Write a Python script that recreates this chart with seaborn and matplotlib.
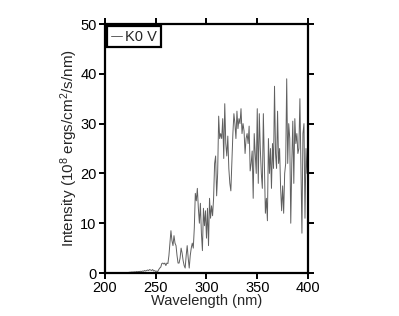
import pandas as pd
import matplotlib
matplotlib.use("Agg")
import matplotlib.pyplot as plt
import seaborn as sns

# K0 V spectrum, 1 nm steps from 222 to 400 nm
wavelength = list(range(222, 401))
intensity = [
    0.1, 0.1, 0.15, 0.15, 0.2, 0.2, 0.2, 0.25, 0.2, 0.3,          # 222-231
    0.25, 0.3, 0.3, 0.35, 0.3, 0.4, 0.35, 0.5, 0.4, 0.5,           # 232-241
    0.6, 0.5, 0.7, 0.6, 0.5, 0.7, 0.4, 0.5, 0.3, 0.4,              # 242-251
    0.3, 0.7, 1.0, 1.2, 1.9, 2.0, 1.8, 2.0, 1.5, 2.0,              # 252-261
    1.9, 3.5, 6.0, 8.5, 6.5, 5.5, 7.5, 6.0, 5.5, 3.5,              # 262-271
    2.0, 2.0, 3.0, 5.0, 4.0, 2.5, 1.5, 1.0, 3.5, 5.5,              # 272-281
    3.0, 1.0, 3.5, 5.0, 6.0, 5.0, 9.0, 16.0, 14.5, 17.0,           # 282-291
    13.0, 10.0, 14.0, 8.0, 4.5, 13.0, 9.5, 12.5, 7.0, 13.0,        # 292-301
    5.5, 15.0, 11.0, 13.5, 11.5, 15.0, 22.0, 23.5, 15.5, 20.0,     # 302-311
    31.5, 27.0, 28.0, 27.0, 31.0, 23.0, 34.0, 26.0, 23.5, 27.5,    # 312-321
    21.0, 18.0, 16.5, 22.0, 28.0, 32.0, 30.0, 27.0, 32.5, 29.0,    # 322-331
    31.0, 30.0, 33.0, 28.0, 30.0, 28.5, 24.0, 27.0, 28.0, 26.0,    # 332-341
    29.5, 20.5, 22.0, 24.5, 15.0, 28.0, 24.0, 20.0, 33.0, 18.0,    # 342-351
    32.0, 25.0, 20.0, 17.0, 32.0, 22.0, 12.0, 15.0, 10.5, 27.0,    # 352-361
    20.0, 25.0, 17.0, 26.0, 21.0, 37.5, 24.0, 21.0, 32.5, 22.0,    # 362-371
    25.0, 17.0, 12.5, 17.5, 12.0, 20.0, 22.0, 39.0, 22.0, 30.0,    # 372-381
    27.0, 10.0, 22.0, 30.5, 18.0, 31.0, 26.0, 28.0, 24.0, 25.0,    # 382-391
    35.0, 22.0, 8.0, 28.0, 30.0, 11.0, 25.0, 20.0, 22.0,           # 392-400
]
series_name = "K0 V"
x_ticks = [200, 250, 300, 350, 400]
y_ticks = [0, 10, 20, 30, 40, 50]

df = pd.DataFrame({"wl": wavelength, "inten": intensity})
df["star"] = series_name

sns.set_style("ticks")
plt.rcParams["font.family"] = ["Liberation Sans", "DejaVu Sans"]
plt.rcParams["mathtext.fontset"] = "custom"
plt.rcParams["mathtext.rm"] = "Liberation Sans"
plt.rcParams["mathtext.default"] = "rm"

fig = plt.figure(figsize=(3.99, 3.16), dpi=100)
ax = fig.add_axes([0.263, 0.136, 0.509, 0.788])

sns.lineplot(data=df, x="wl", y="inten", hue="star", palette=["#606060"],
             linewidth=0.7, ax=ax)

ax.set_xlim(200, 400)
ax.set_ylim(0, 50)
ax.set_xticks(x_ticks)
ax.set_yticks(y_ticks)
ax.set_xlabel("Wavelength (nm)", fontsize=10.5, labelpad=-1)
ax.set_ylabel("Intensity (10$^8$ ergs/cm$^2$/s/nm)", fontsize=11, labelpad=0)

for s in ax.spines.values():
    s.set_visible(True)
    s.set_linewidth(1.6)
    s.set_color("black")
ax.tick_params(direction="out", length=4.5, width=1.4, labelsize=10.5,
               top=True, right=True, pad=1.5, colors="black")

leg = ax.legend(loc="upper left", frameon=True, fancybox=False,
                handlelength=0.8, handletextpad=0.2, borderpad=0.25,
                borderaxespad=0.15, fontsize=10.5)
leg.get_frame().set_edgecolor("black")
leg.get_frame().set_linewidth(1.6)
leg.get_frame().set_alpha(1)

fig.savefig("out.png", dpi=100)
